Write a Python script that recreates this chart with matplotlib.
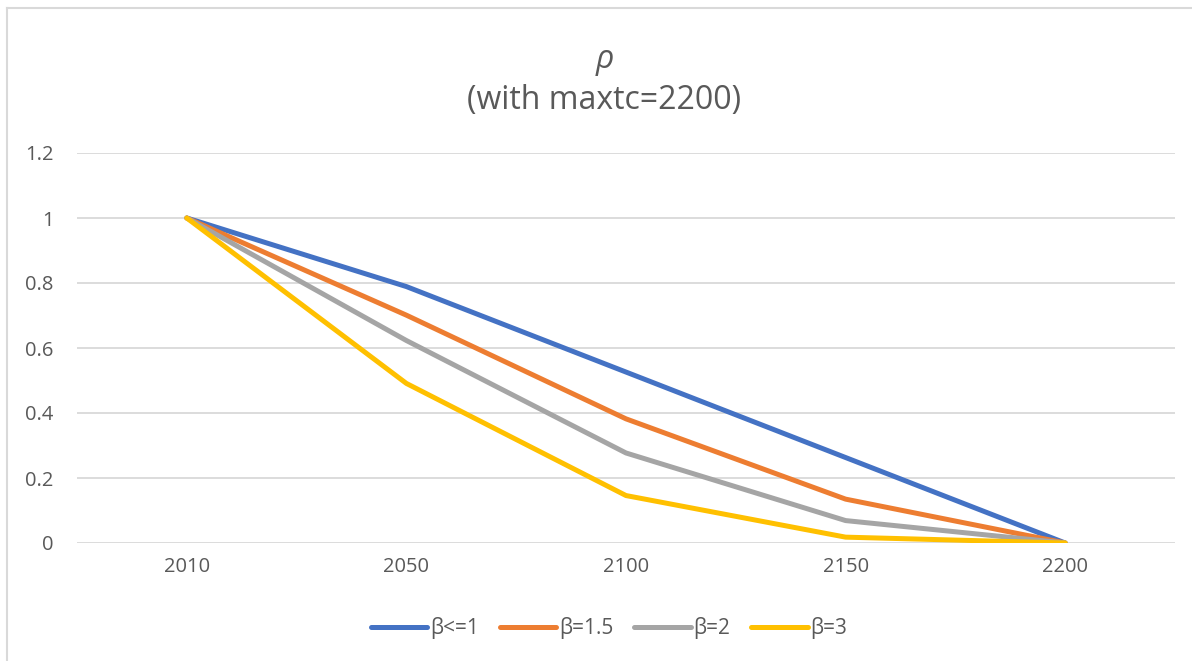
import matplotlib
matplotlib.use('Agg')
import matplotlib.pyplot as plt
from matplotlib.lines import Line2D

# anni (asse categorico) e rho per ogni beta
years = ['2010', '2050', '2100', '2150', '2200']
rho_b1 = [1.0, 0.789, 0.526, 0.263, 0.0]
rho_b15 = [1.0, 0.701, 0.382, 0.135, 0.0]
rho_b2 = [1.0, 0.623, 0.277, 0.069, 0.0]
rho_b3 = [1.0, 0.491, 0.146, 0.018, 0.0]

series = [
    ('β<=1', rho_b1, '#4472C4'),
    ('β=1.5', rho_b15, '#ED7D31'),
    ('β=2', rho_b2, '#A5A5A5'),
    ('β=3', rho_b3, '#FFC000'),
]

plt.rcParams['font.family'] = ['Open Sans', 'DejaVu Sans']
W, H = 1192, 661
fig = plt.figure(figsize=(W / 100, H / 100), dpi=100)
ax = fig.add_axes([77 / W, 1 - 543 / H, (1175 - 77) / W, (543 - 153) / H])

x = list(range(len(years)))
for name, vals, col in series:
    ax.plot(x, vals, color=col, lw=3.6, label=name, solid_capstyle='round',
            solid_joinstyle='round', zorder=3)

ax.set_xlim(-0.5, len(years) - 0.5)
ax.set_ylim(0, 1.2)
ax.set_yticks([0, 0.2, 0.4, 0.6, 0.8, 1.0, 1.2])
ax.set_yticklabels(['0', '0.2', '0.4', '0.6', '0.8', '1', '1.2'])
ax.set_xticks(x)
ax.set_xticklabels(years)
ax.grid(axis='y', color='#D9D9D9', lw=1.3)
ax.set_axisbelow(True)
for s in ax.spines.values():
    s.set_visible(False)
ax.tick_params(length=0, colors='#595959', labelsize=14.5)
ax.tick_params(axis='y', pad=17)
ax.tick_params(axis='x', pad=10)

fig.text(0.507, 1 - 59 / H, 'ρ', ha='center', va='center', fontsize=23,
         color='#595959', style='italic')
fig.text(0.507, 1 - 101 / H, '(with maxtc=2200)', ha='center', va='center',
         fontsize=23, color='#595959')

leg = fig.legend(loc='center', bbox_to_anchor=(0.511, 1 - 628 / H), ncol=4,
                 frameon=False, fontsize=15, handlelength=2.7,
                 handletextpad=0.15, columnspacing=1.0)
for t in leg.get_texts():
    t.set_color('#595959')

# bordo del grafico
fig.add_artist(Line2D([7 / W, 1], [1 - 8 / H, 1 - 8 / H], color='#D9D9D9', lw=1.5))
fig.add_artist(Line2D([7 / W, 7 / W], [0, 1 - 8 / H], color='#D9D9D9', lw=1.5))

fig.savefig('out.png', dpi=100, facecolor='white')
